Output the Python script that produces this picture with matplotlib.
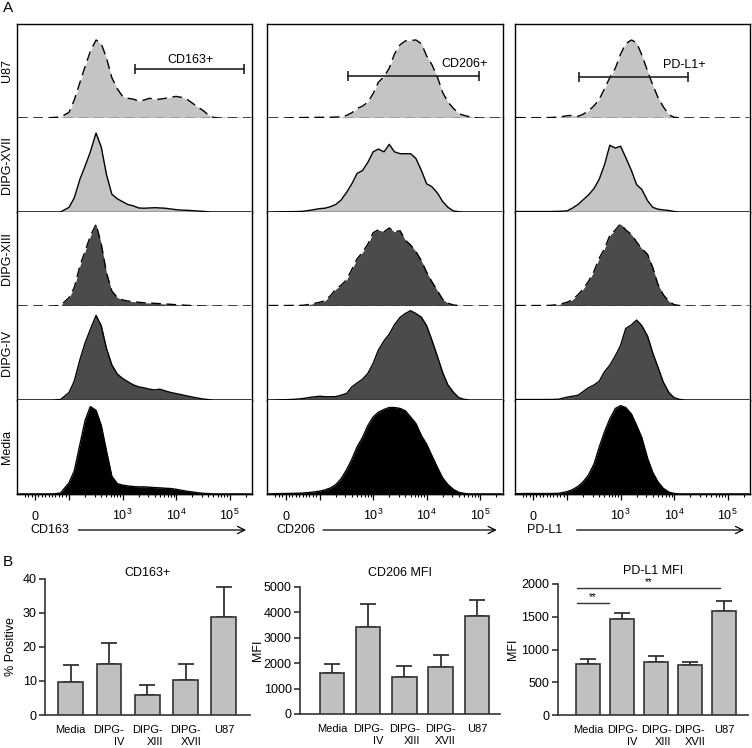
import matplotlib
matplotlib.use("Agg")
import matplotlib.pyplot as plt
from matplotlib.ticker import FixedLocator, FixedFormatter

plt.rcParams['font.family'] = ['Liberation Sans', 'DejaVu Sans']
plt.rcParams['mathtext.fontset'] = 'custom'
plt.rcParams['mathtext.rm'] = 'Liberation Sans'
plt.rcParams['mathtext.it'] = 'Liberation Sans:italic'
plt.rcParams['mathtext.bf'] = 'Liberation Sans:bold'

# ---------------- Panel A data: flow histograms (mode-normalised counts) ----------------
channels = [-50, -25, 0, 25, 50, 75,
            100, 125, 160, 200, 250, 320, 400, 500, 630, 800,
            1000, 1250, 1600, 2000, 2500, 3200, 4000, 5000, 6300, 8000,
            10000, 12500, 16000, 20000, 25000, 32000, 40000, 50000, 63000, 80000,
            100000, 125000, 160000, 200000, 250000]

row_names = ['U87', 'DIPG-XVII', 'DIPG-XIII', 'DIPG-IV', 'Media']

cd163_u87 = [0, 0, 0, 0, 0.005, 0.01,
             0.06, 0.19, 0.38, 0.55, 0.71, 0.83, 0.79, 0.64, 0.43, 0.31,
             0.23, 0.21, 0.20, 0.18, 0.19, 0.21, 0.20, 0.20, 0.21, 0.22,
             0.23, 0.22, 0.20, 0.16, 0.12, 0.08, 0.035, 0.007, 0, 0,
             0, 0, 0, 0, 0]
cd163_xvii = [0, 0, 0, 0, 0, 0,
              0.05, 0.15, 0.35, 0.49, 0.64, 0.84, 0.69, 0.40, 0.19, 0.14,
              0.11, 0.08, 0.065, 0.043, 0.04, 0.043, 0.046, 0.043, 0.04, 0.032,
              0.025, 0.02, 0.018, 0.015, 0.01, 0.007, 0.002, 0, 0, 0,
              0, 0, 0, 0, 0]
cd163_xiii = [0, 0, 0, 0, 0, 0.005,
              0.09, 0.195, 0.43, 0.585, 0.745, 0.87, 0.66, 0.355, 0.16, 0.09,
              0.064, 0.053, 0.046, 0.039, 0.035, 0.032, 0.028, 0.025, 0.021, 0.018,
              0.014, 0.011, 0.007, 0.004, 0.002, 0, 0, 0, 0, 0,
              0, 0, 0, 0, 0]
cd163_iv = [0, 0, 0, 0, 0, 0.005,
            0.08, 0.20, 0.43, 0.61, 0.75, 0.90, 0.79, 0.55, 0.375, 0.275,
            0.23, 0.195, 0.16, 0.14, 0.13, 0.115, 0.107, 0.115, 0.096, 0.08,
            0.068, 0.057, 0.043, 0.032, 0.021, 0.011, 0.004, 0, 0, 0,
            0, 0, 0, 0, 0]
cd163_media = [0, 0, 0, 0, 0, 0.01,
               0.12, 0.245, 0.53, 0.785, 0.93, 0.89, 0.73, 0.46, 0.19, 0.11,
               0.094, 0.086, 0.079, 0.076, 0.076, 0.072, 0.068, 0.065, 0.061, 0.058,
               0.05, 0.04, 0.029, 0.022, 0.014, 0.007, 0.004, 0, 0, 0,
               0, 0, 0, 0, 0]

cd206_u87 = [0, 0, 0, 0.005, 0.005, 0.007,
             0.007, 0.008, 0.008, 0.01, 0.012, 0.028, 0.056, 0.10, 0.126, 0.17,
             0.26, 0.38, 0.44, 0.53, 0.68, 0.78, 0.82, 0.825, 0.83, 0.79,
             0.66, 0.57, 0.43, 0.27, 0.17, 0.10, 0.045, 0.028, 0.014, 0.004,
             0, 0, 0, 0, 0]
cd206_xvii = [0, 0.002, 0.003, 0.004, 0.007, 0.02,
              0.036, 0.04, 0.057, 0.08, 0.125, 0.21, 0.30, 0.41, 0.44, 0.53,
              0.64, 0.67, 0.64, 0.72, 0.64, 0.62, 0.62, 0.62, 0.57, 0.44,
              0.30, 0.27, 0.20, 0.11, 0.05, 0.01, 0.003, 0, 0, 0,
              0, 0, 0, 0, 0]
cd206_xiii = [0.005, 0.005, 0.005, 0.007, 0.007, 0.02,
              0.04, 0.055, 0.11, 0.18, 0.22, 0.28, 0.39, 0.50, 0.57, 0.66,
              0.78, 0.81, 0.79, 0.83, 0.79, 0.80, 0.70, 0.65, 0.58, 0.48,
              0.36, 0.26, 0.16, 0.07, 0.03, 0.01, 0.005, 0, 0, 0,
              0, 0, 0, 0, 0]
cd206_iv = [0, 0.002, 0.003, 0.007, 0.015, 0.03,
            0.04, 0.035, 0.035, 0.036, 0.05, 0.07, 0.14, 0.18, 0.22, 0.285,
            0.39, 0.53, 0.63, 0.70, 0.80, 0.88, 0.92, 0.95, 0.92, 0.88,
            0.79, 0.64, 0.46, 0.29, 0.16, 0.08, 0.025, 0.007, 0, 0,
            0, 0, 0, 0, 0]
cd206_media = [0, 0.004, 0.005, 0.007, 0.01, 0.018,
               0.03, 0.043, 0.065, 0.10, 0.16, 0.26, 0.37, 0.50, 0.60, 0.73,
               0.82, 0.87, 0.90, 0.92, 0.92, 0.91, 0.885, 0.82, 0.75, 0.62,
               0.53, 0.41, 0.28, 0.17, 0.10, 0.047, 0.018, 0.007, 0, 0,
               0, 0, 0, 0, 0]

pdl1_u87 = [0.005, 0.003, 0.002, 0.003, 0.005, 0.01,
            0.024, 0.028, 0.018, 0.04, 0.075, 0.13, 0.20, 0.31, 0.43, 0.53,
            0.68, 0.79, 0.83, 0.80, 0.67, 0.50, 0.35, 0.22, 0.12, 0.035,
            0.008, 0.002, 0, 0, 0, 0, 0, 0, 0, 0,
            0, 0, 0, 0, 0]
pdl1_xvii = [0.005, 0.005, 0.005, 0.005, 0.005, 0.007,
             0.012, 0.04, 0.08, 0.13, 0.18, 0.25, 0.35, 0.50, 0.71, 0.68,
             0.70, 0.58, 0.44, 0.29, 0.24, 0.12, 0.05, 0.03, 0.022, 0.016,
             0.005, 0, 0, 0, 0, 0, 0, 0, 0, 0,
             0, 0, 0, 0, 0]
pdl1_xiii = [0.005, 0.005, 0.005, 0.005, 0.007, 0.015,
             0.04, 0.065, 0.12, 0.18, 0.26, 0.37, 0.51, 0.61, 0.75, 0.81,
             0.875, 0.81, 0.76, 0.68, 0.61, 0.55, 0.41, 0.23, 0.12, 0.05,
             0.015, 0.005, 0, 0, 0, 0, 0, 0, 0, 0,
             0, 0, 0, 0, 0]
pdl1_iv = [0.005, 0.005, 0.005, 0.005, 0.005, 0.008,
           0.03, 0.04, 0.05, 0.09, 0.13, 0.16, 0.20, 0.30, 0.37, 0.47,
           0.58, 0.76, 0.80, 0.85, 0.79, 0.68, 0.50, 0.35, 0.19, 0.08,
           0.025, 0.007, 0, 0, 0, 0, 0, 0, 0, 0,
           0, 0, 0, 0, 0]
pdl1_media = [0.003, 0.005, 0.005, 0.005, 0.005, 0.007,
              0.025, 0.045, 0.08, 0.13, 0.20, 0.32, 0.50, 0.66, 0.80, 0.91,
              0.94, 0.92, 0.85, 0.73, 0.60, 0.38, 0.23, 0.13, 0.06, 0.02,
              0.006, 0, 0, 0, 0, 0, 0, 0, 0, 0,
              0, 0, 0, 0, 0]

markers = ['CD163', 'CD206', 'PD-L1']
hists = [[cd163_u87, cd163_xvii, cd163_xiii, cd163_iv, cd163_media],
         [cd206_u87, cd206_xvii, cd206_xiii, cd206_iv, cd206_media],
         [pdl1_u87, pdl1_xvii, pdl1_xiii, pdl1_iv, pdl1_media]]

# positive gates drawn on the U87 histogram
gate_names = ['CD163+', 'CD206+', 'PD-L1+']
gate_lo = [1715, 344, 166]
gate_hi = [189000, 96700, 18200]
gate_y = [0.52, 0.45, 0.44]
gate_label_x = [18300, 50500, 15800]
gate_label_y = [0.62, 0.57, 0.56]

# ---------------- Panel B data: bar charts ----------------
groups = ['Media', 'DIPG-\nIV', 'DIPG-\nXIII', 'DIPG-\nXVII', 'U87']
cd163_pos = [9.6, 15.0, 5.8, 10.3, 28.6]
cd163_pos_err = [5.1, 6.1, 2.9, 4.6, 9.0]
cd206_mfi = [1600, 3415, 1470, 1830, 3840]
cd206_mfi_err = [360, 895, 410, 470, 640]
pdl1_mfi = [779, 1466, 814, 763, 1588]
pdl1_mfi_err = [71, 96, 86, 41, 147]

# ---------------- figure ----------------
W, H = 752, 748
fig = plt.figure(figsize=(W / 100, H / 100), dpi=100)


def px_rect(x0, y0, x1, y1):
    return [x0 / W, 1 - y1 / H, (x1 - x0) / W, (y1 - y0) / H]


row_fill = ['#c4c4c4', '#c4c4c4', '#4b4b4b', '#4b4b4b', '#000000']
row_ls = [(0, (7, 4)), '-', (0, (7, 4)), '-', '-']
col_left = [16.7, 267.3, 514.7]
col_w = 235.3
row_top, row_h = 24, 94
arrow_start = [0.262, 0.237, 0.263]
label_x = [0.057, 0.040, 0.051]

for c in range(3):
    for r in range(5):
        y0 = row_top + r * row_h
        ax = fig.add_axes(px_rect(col_left[c], y0, col_left[c] + col_w, y0 + row_h))
        ax.set_xscale('symlog', linthresh=100, linscale=0.572)
        ax.set_xlim(-54, 2.63e5)
        ax.set_ylim(0, 1)
        vals = hists[c][r]
        ax.fill_between(channels, vals, color=row_fill[r], lw=0)
        ax.plot(channels, vals, color='k', lw=1.0, ls=row_ls[r])
        ax.axhline(0, color='k', lw=1.0, ls=row_ls[r], clip_on=False)
        for s in ax.spines.values():
            s.set_linewidth(1.0)
        if r > 0:
            ax.spines['top'].set_visible(False)
        if r < 4:
            ax.spines['bottom'].set_visible(False)
            ax.tick_params(which='both', bottom=False, labelbottom=False)
        ax.tick_params(which='both', left=False, labelleft=False)

        if c == 0:
            ax.text(-0.041, 0.5, row_names[r], transform=ax.transAxes, rotation=90,
                    ha='center', va='center', fontsize=9)

        if r == 0:
            ax.plot([gate_lo[c], gate_hi[c]], [gate_y[c], gate_y[c]], color='#222222', lw=1.2)
            ax.plot([gate_lo[c], gate_hi[c]], [gate_y[c], gate_y[c]], ls='none',
                    marker='|', ms=7, mew=1.2, color='#222222')
            ax.text(gate_label_x[c], gate_label_y[c], gate_names[c], ha='center',
                    va='center', fontsize=9)

        if r == 4:
            ax.xaxis.set_major_locator(FixedLocator([0, 100, 1000, 10000, 100000]))
            ax.xaxis.set_major_formatter(FixedFormatter(['0', '', '$10^3$', '$10^4$', '$10^5$']))
            ax.xaxis.set_minor_locator(FixedLocator(
                [-30, -20, -10, 10, 20, 30, 40, 50, 60, 70, 80, 90,
                 200, 300, 400, 500, 600, 700, 800, 900,
                 2000, 3000, 4000, 5000, 6000, 7000, 8000, 9000,
                 20000, 30000, 40000, 50000, 60000, 70000, 80000, 90000, 200000]))
            ax.tick_params(axis='x', which='major', direction='out', length=4.5,
                           width=0.9, labelsize=9, pad=14.5)
            ax.tick_params(axis='x', which='minor', direction='out', length=2.5, width=0.8)
            for lab in ax.get_xticklabels():
                lab.set_va('baseline')
            ax.text(label_x[c], -0.383, markers[c], transform=ax.transAxes,
                    ha='left', va='center', fontsize=9)
            ax.annotate('', xy=(0.975, -0.383), xytext=(arrow_start[c], -0.383),
                        xycoords='axes fraction',
                        arrowprops=dict(arrowstyle='->', lw=0.9, color='k',
                                        shrinkA=0, shrinkB=0, mutation_scale=13))

# ---------------- Panel B ----------------
bar_specs = [
    (px_rect(45, 578.5, 250, 715), cd163_pos, cd163_pos_err, 'CD163+', '% Positive',
     (0, 40), [0, 10, 20, 30, 40], (-0.67, 4.68), 0.65, 1.5, 4),
    (px_rect(300, 586.7, 500, 714), cd206_mfi, cd206_mfi_err, 'CD206 MFI', 'MFI',
     (0, 5000), [0, 1000, 2000, 3000, 4000, 5000], (-0.884, 4.64), 0.67, 7.5, 0),
    (px_rect(557.7, 584, 748, 715), pdl1_mfi, pdl1_mfi_err, 'PD-L1 MFI', 'MFI',
     (0, 2000), [0, 500, 1000, 1500, 2000], (-0.90, 4.71), 0.72, 7.5, 2),
]

bar_axes = []
for rect, vals, errs, title, ylab, ylim, yticks, xlim, bw, tpad, lpad in bar_specs:
    ax = fig.add_axes(rect)
    x = list(range(len(groups)))
    ax.bar(x, vals, width=bw, color='#c0c0c0', edgecolor='#333333', lw=1.2, zorder=3)
    ax.errorbar(x, vals, yerr=[[0] * len(errs), errs], fmt='none', ecolor='#333333',
                elinewidth=1.3, capsize=5.5, capthick=1.3, zorder=2)
    ax.set_xlim(*xlim)
    ax.set_ylim(*ylim)
    ax.set_yticks(yticks)
    ax.set_xticks(x)
    ax.set_xticklabels(groups, fontsize=8, multialignment='right', linespacing=1.25)
    ax.tick_params(axis='x', length=0, pad=7)
    ax.tick_params(axis='y', direction='out', length=4, width=1.2, labelsize=9,
                   color='#333333', pad=2)
    for side in ['top', 'right']:
        ax.spines[side].set_visible(False)
    for side in ['left', 'bottom']:
        ax.spines[side].set_linewidth(1.2)
        ax.spines[side].set_color('#333333')
    ax.set_title(title, fontsize=9, pad=tpad)
    ax.set_ylabel(ylab, fontsize=9, labelpad=lpad)
    bar_axes.append(ax)

# significance brackets on PD-L1 MFI
ax3 = bar_axes[2]
sig_lines = [(-0.34, 0.62, 1705), (-0.32, 3.87, 1934)]
for xa, xb, yy in sig_lines:
    ax3.plot([xa, xb], [yy, yy], color='#333333', lw=1.0, clip_on=False)
    ax3.text((xa + xb) / 2, yy + 15, '**', ha='center', va='bottom', fontsize=7)

fig.text(8 / W, 1 - 8.5 / H, 'A', ha='center', va='center', fontsize=11)
fig.text(8 / W, 1 - 561.7 / H, 'B', ha='center', va='center', fontsize=11)

fig.savefig('out.png', dpi=100)
